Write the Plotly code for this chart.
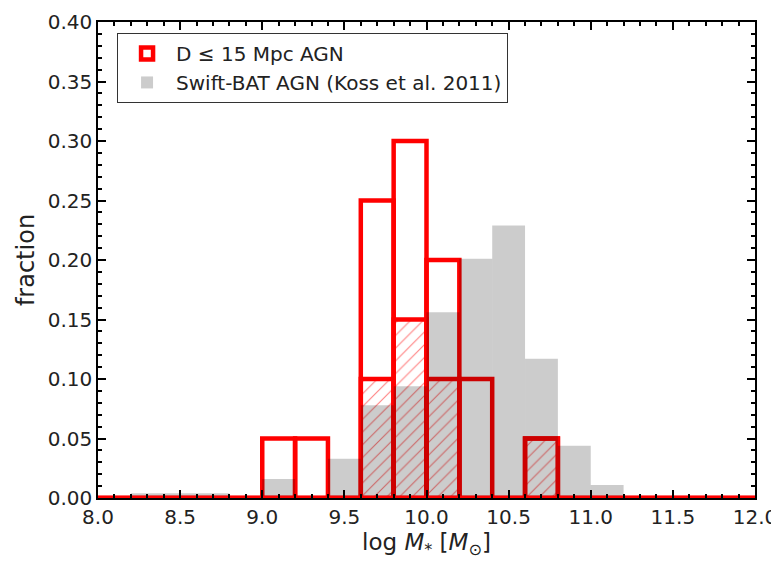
import plotly.graph_objects as go

# bin edges 8.0 .. 12.0 in steps of 0.2
edges = [round(8.0 + 0.2 * i, 1) for i in range(21)]
centers = [round(e + 0.1, 2) for e in edges[:-1]]

# D <= 15 Mpc AGN (open red bars)
local_all = [0, 0, 0, 0, 0, 0.05, 0.05, 0, 0.25, 0.30,
             0.20, 0.10, 0, 0.05, 0, 0, 0, 0, 0, 0]
# hatched subset
local_sub = [0, 0, 0, 0, 0, 0, 0, 0, 0.10, 0.15,
             0.10, 0, 0, 0.05, 0, 0, 0, 0, 0, 0]
# Swift-BAT AGN (Koss et al. 2011)
bat = [0, 0.004, 0.004, 0.004, 0, 0.016, 0, 0.033, 0.078, 0.094,
       0.156, 0.201, 0.229, 0.117, 0.044, 0.011, 0, 0, 0, 0]

fig = go.Figure()

fig.add_trace(go.Bar(
    x=centers, y=local_all, width=0.2,
    name='D \u2264 15 Mpc AGN',
    marker=dict(color='rgba(255,255,255,0)', line=dict(color='#ff0000', width=4.5)),
))
fig.add_trace(go.Bar(
    x=centers, y=local_sub, width=0.2,
    showlegend=False,
    marker=dict(color='rgba(255,255,255,0)', line=dict(color='#ff0000', width=4.5),
                pattern=dict(shape='/', fgcolor='#ff0000', size=9, solidity=0.12)),
))
# zero baseline of the red histogram
fig.add_trace(go.Scatter(
    x=[edges[0], edges[-1]], y=[0, 0], mode='lines',
    line=dict(color='#ff0000', width=4.5), showlegend=False, hoverinfo='skip',
))
fig.add_trace(go.Bar(
    x=centers, y=bat, width=0.2,
    name='Swift-BAT AGN (Koss et al. 2011)',
    marker=dict(color='rgba(0,0,0,0.2)', line=dict(width=0)),
))

axis_common = dict(
    showline=True, linecolor='black', linewidth=1.5, mirror='allticks',
    ticks='inside', ticklen=8, tickwidth=1.5, tickcolor='black',
    showgrid=False, zeroline=False, automargin=False,
    tickfont=dict(size=20, color='#222'),
)

# page body adds an 8px offset, so the figure is a bit smaller than the window
fig.update_layout(
    barmode='overlay',
    width=771, height=553,
    margin=dict(l=90, r=24, t=14, b=63),
    plot_bgcolor='white', paper_bgcolor='white',
    font=dict(family='DejaVu Sans', color='#222'),
    xaxis=dict(
        range=[8.0, 12.0], tickmode='array',
        tickvals=[8.0, 8.5, 9.0, 9.5, 10.0, 10.5, 11.0, 11.5, 12.0],
        ticktext=['8.0', '8.5', '9.0', '9.5', '10.0', '10.5', '11.0', '11.5', '12.0'],
        minor=dict(dtick=0.1, ticks='inside', ticklen=4, tickwidth=1.5, tickcolor='black'),
        title=dict(text='log <i>M</i><sub>*</sub> [<i>M</i><sub>\u2299</sub>]',
                   font=dict(size=23), standoff=2),
        **axis_common,
    ),
    yaxis=dict(
        range=[0, 0.40], tickmode='array',
        tickvals=[0, 0.05, 0.10, 0.15, 0.20, 0.25, 0.30, 0.35, 0.40],
        ticktext=['0.00', '0.05', '0.10', '0.15', '0.20', '0.25', '0.30', '0.35', '0.40'],
        minor=dict(dtick=0.01, ticks='inside', ticklen=4, tickwidth=1.5, tickcolor='black'),
        title=dict(text='fraction', font=dict(size=24), standoff=6),
        **axis_common,
    ),
    legend=dict(
        x=0.029, y=0.977, xanchor='left', yanchor='top',
        bgcolor='white', bordercolor='#333', borderwidth=1,
        font=dict(size=20, color='#222'),
        itemwidth=48,
    ),
)

fig.write_html('out.html')
